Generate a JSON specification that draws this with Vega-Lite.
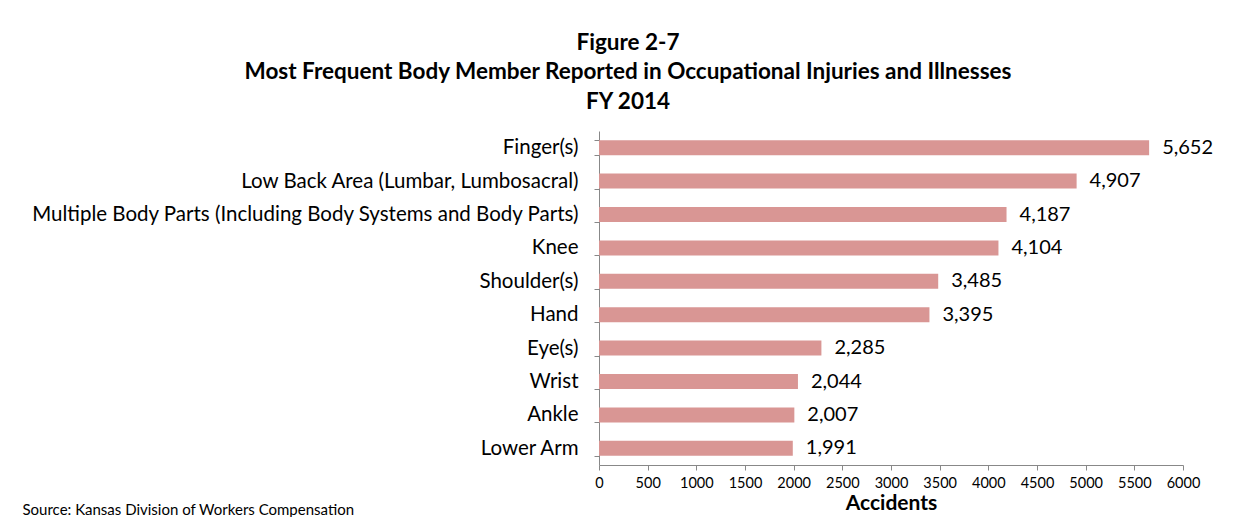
{
  "$schema": "https://vega.github.io/schema/vega-lite/v6.json",
  "width": 584,
  "height": 334,
  "autosize": {"type": "none"},
  "padding": {"left": 599, "top": 131, "right": 56, "bottom": 52},
  "background": "white",
  "title": {
    "text": ["Figure 2-7", "Most Frequent Body Member Reported in Occupational Injuries and Illnesses", "FY 2014"],
    "font": "Lato",
    "fontSize": 22.5,
    "fontWeight": "bold",
    "color": "black",
    "lineHeight": 29.5,
    "anchor": "middle",
    "frame": "group",
    "dx": -263,
    "offset": 8
  },
  "config": {
    "view": {"stroke": null},
    "font": "Lato"
  },
  "data": {
    "values": [
      {"part": "Finger(s)", "accidents": 5652},
      {"part": "Low Back Area (Lumbar, Lumbosacral)", "accidents": 4907},
      {"part": "Multiple Body Parts (Including Body Systems and Body Parts)", "accidents": 4187},
      {"part": "Knee", "accidents": 4104},
      {"part": "Shoulder(s)", "accidents": 3485},
      {"part": "Hand", "accidents": 3395},
      {"part": "Eye(s)", "accidents": 2285},
      {"part": "Wrist", "accidents": 2044},
      {"part": "Ankle", "accidents": 2007},
      {"part": "Lower Arm", "accidents": 1991}
    ]
  },
  "encoding": {
    "y": {
      "field": "part",
      "type": "nominal",
      "sort": null,
      "scale": {"paddingInner": 0.55, "paddingOuter": 0.275},
      "axis": {
        "title": "Source: Kansas Division of Workers Compensation",
        "titleAngle": 0,
        "titleX": -577,
        "titleY": 386,
        "titleAlign": "left",
        "titleBaseline": "bottom",
        "titleFont": "Lato",
        "titleFontSize": 15,
        "titleFontWeight": "normal",
        "titleColor": "black",
        "labelFont": "Lato",
        "labelFontSize": 20.5,
        "labelColor": "black",
        "labelPadding": 16,
        "tickBand": "extent",
        "tickSize": 5,
        "tickColor": "#888888",
        "domainColor": "#888888",
        "grid": false,
        "labelLimit": 700
      }
    },
    "x": {
      "field": "accidents",
      "type": "quantitative",
      "scale": {"domain": [0, 6000]},
      "axis": {
        "values": [0, 500, 1000, 1500, 2000, 2500, 3000, 3500, 4000, 4500, 5000, 5500, 6000],
        "format": "d",
        "title": "Accidents",
        "titleFont": "Lato",
        "titleFontSize": 21,
        "titleFontWeight": "bold",
        "titleColor": "black",
        "titlePadding": 3,
        "labelFont": "Lato",
        "labelFontSize": 14.5,
        "labelColor": "black",
        "labelPadding": 6,
        "tickSize": 5,
        "tickColor": "#888888",
        "domainColor": "#888888",
        "grid": false,
        "labelFlush": false
      }
    }
  },
  "layer": [
    {"mark": {"type": "bar", "color": "#D99694"}},
    {
      "mark": {"type": "text", "align": "left", "baseline": "middle", "dx": 13, "font": "Lato", "fontSize": 20, "color": "black"},
      "encoding": {"text": {"field": "accidents", "type": "quantitative", "format": ","}}
    }
  ]
}
